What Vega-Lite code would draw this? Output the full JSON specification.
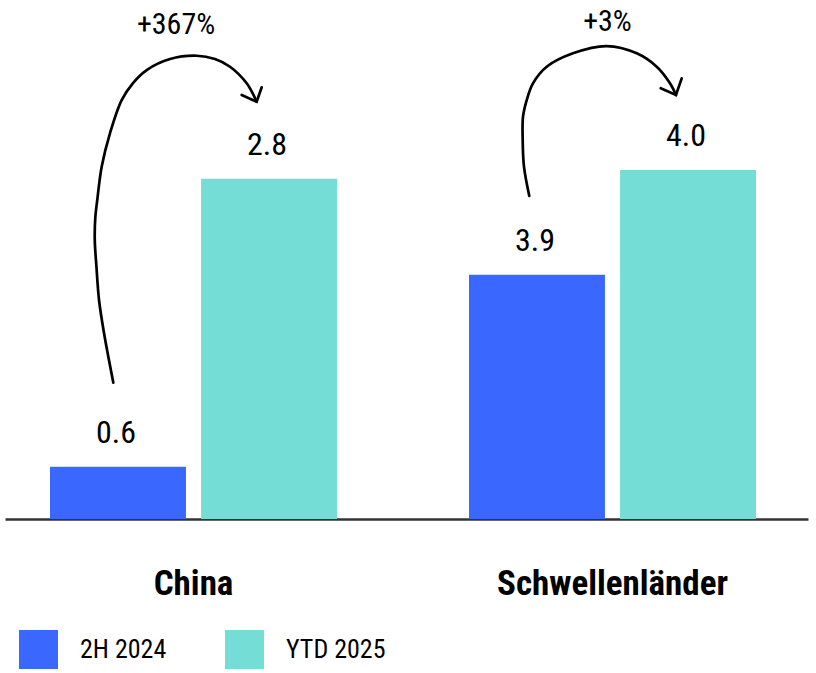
{
  "$schema": "https://vega.github.io/schema/vega-lite/v6.json",
  "width": 803,
  "height": 519,
  "autosize": {"type": "none"},
  "padding": {"left": 5, "top": 0, "right": 8, "bottom": 154},
  "background": "white",
  "config": {
    "view": {"stroke": null},
    "font": "Roboto Condensed, Liberation Sans, sans-serif"
  },
  "datasets": {
    "bars": [
      {"region": "China", "period": "2H 2024", "bar": 0.6, "label": "0.6"},
      {"region": "China", "period": "YTD 2025", "bar": 3.9, "label": "2.8"},
      {"region": "Schwellenländer", "period": "2H 2024", "bar": 2.8, "label": "3.9"},
      {"region": "Schwellenländer", "period": "YTD 2025", "bar": 4.0, "label": "4.0"}
    ],
    "curves": [
      {"seg": "c", "i": 1, "x": 13.49, "y": 1.563},
      {"seg": "c", "i": 2, "x": 12.33, "y": 2.132},
      {"seg": "c", "i": 3, "x": 11.71, "y": 2.511},
      {"seg": "c", "i": 4, "x": 11.39, "y": 2.889},
      {"seg": "c", "i": 5, "x": 11.18, "y": 3.198},
      {"seg": "c", "i": 6, "x": 11.25, "y": 3.462},
      {"seg": "c", "i": 7, "x": 11.49, "y": 3.657},
      {"seg": "c", "i": 8, "x": 12.04, "y": 4.039},
      {"seg": "c", "i": 9, "x": 13.08, "y": 4.425},
      {"seg": "c", "i": 10, "x": 14.53, "y": 4.803},
      {"seg": "c", "i": 11, "x": 15.94, "y": 4.998},
      {"seg": "c", "i": 12, "x": 17.65, "y": 5.147},
      {"seg": "c", "i": 13, "x": 20.55, "y": 5.273},
      {"seg": "c", "i": 14, "x": 23.87, "y": 5.311},
      {"seg": "c", "i": 15, "x": 26.15, "y": 5.273},
      {"seg": "c", "i": 16, "x": 28.02, "y": 5.185},
      {"seg": "c", "i": 17, "x": 30.10, "y": 4.995},
      {"seg": "c", "i": 18, "x": 31.34, "y": 4.784},
      {"seg": "s", "i": 1, "x": 65.29, "y": 3.703},
      {"seg": "s", "i": 2, "x": 64.63, "y": 4.039},
      {"seg": "s", "i": 3, "x": 64.47, "y": 4.345},
      {"seg": "s", "i": 4, "x": 64.51, "y": 4.612},
      {"seg": "s", "i": 5, "x": 64.97, "y": 4.803},
      {"seg": "s", "i": 6, "x": 65.75, "y": 4.995},
      {"seg": "s", "i": 7, "x": 67.46, "y": 5.185},
      {"seg": "s", "i": 8, "x": 70.73, "y": 5.339},
      {"seg": "s", "i": 9, "x": 74.93, "y": 5.422},
      {"seg": "s", "i": 10, "x": 78.67, "y": 5.339},
      {"seg": "s", "i": 11, "x": 81.16, "y": 5.185},
      {"seg": "s", "i": 12, "x": 82.81, "y": 4.995},
      {"seg": "s", "i": 13, "x": 83.56, "y": 4.861}
    ],
    "heads": [
      {"seg": "c", "i": 1, "x": 29.48, "y": 4.861},
      {"seg": "c", "i": 2, "x": 31.34, "y": 4.784},
      {"seg": "c", "i": 3, "x": 31.97, "y": 4.949},
      {"seg": "s", "i": 1, "x": 81.66, "y": 4.938},
      {"seg": "s", "i": 2, "x": 83.56, "y": 4.861},
      {"seg": "s", "i": 3, "x": 84.27, "y": 5.052}
    ],
    "pct": [
      {"x": 21.30, "y": 5.663, "text": "+367%"},
      {"x": 75.03, "y": 5.703, "text": "+3%"}
    ]
  },
  "layer": [
    {
      "data": {"name": "bars"},
      "encoding": {
        "x": {
          "field": "region",
          "type": "nominal",
          "sort": ["China", "Schwellenländer"],
          "scale": {"paddingInner": 0.315, "paddingOuter": 0.11575, "align": 0.464},
          "axis": {
            "title": null,
            "domain": true,
            "domainColor": "#333333",
            "domainWidth": 2.5,
            "ticks": false,
            "tickSize": 0,
            "labelPadding": 47,
            "labelFontSize": 35,
            "labelFontWeight": "bold",
            "labelColor": "black",
            "labelAngle": 0,
            "labelLimit": 0
          }
        },
        "xOffset": {
          "field": "period",
          "type": "nominal",
          "scale": {"paddingInner": 0.1, "paddingOuter": 0}
        },
        "y": {
          "field": "bar",
          "type": "quantitative",
          "scale": {"domain": [0, 5.95], "nice": false},
          "axis": null
        }
      },
      "layer": [
        {
          "mark": {"type": "bar"},
          "encoding": {
            "color": {
              "field": "period",
              "type": "nominal",
              "scale": {"domain": ["2H 2024", "YTD 2025"], "range": ["#3A67FE", "#74DDD6"]},
              "legend": {
                "orient": "none",
                "legendX": 14,
                "legendY": 630,
                "direction": "horizontal",
                "title": null,
                "symbolType": "square",
                "symbolSize": 1521,
                "symbolStrokeWidth": 0,
                "symbolOpacity": 1,
                "labelFontSize": 26,
                "labelOffset": 22,
                "labelColor": "black",
                "labelLimit": 0,
                "columnPadding": 58,
                "padding": 0
              }
            }
          }
        },
        {
          "mark": {"type": "text", "baseline": "alphabetic", "dy": -24, "dx": -2, "fontSize": 32, "color": "black"},
          "encoding": {"text": {"field": "label"}}
        }
      ]
    },
    {
      "layer": [
        {
          "data": {"name": "curves"},
          "mark": {"type": "line", "interpolate": "catmull-rom", "color": "black", "strokeWidth": 2.7, "strokeCap": "round"},
          "encoding": {
            "x": {"field": "x", "type": "quantitative", "scale": {"domain": [0, 100], "nice": false, "zero": false}, "axis": null},
            "y": {"field": "y", "type": "quantitative", "scale": {"domain": [0, 5.95], "nice": false}, "axis": null},
            "detail": {"field": "seg"},
            "order": {"field": "i", "type": "quantitative"}
          }
        },
        {
          "data": {"name": "heads"},
          "mark": {"type": "line", "interpolate": "linear", "color": "black", "strokeWidth": 2.7, "strokeCap": "round", "strokeJoin": "miter"},
          "encoding": {
            "x": {"field": "x", "type": "quantitative", "scale": {"domain": [0, 100], "nice": false, "zero": false}, "axis": null},
            "y": {"field": "y", "type": "quantitative", "scale": {"domain": [0, 5.95], "nice": false}, "axis": null},
            "detail": {"field": "seg"},
            "order": {"field": "i", "type": "quantitative"}
          }
        },
        {
          "data": {"name": "pct"},
          "mark": {"type": "text", "baseline": "middle", "align": "center", "fontSize": 30, "color": "black"},
          "encoding": {
            "x": {"field": "x", "type": "quantitative", "scale": {"domain": [0, 100], "nice": false, "zero": false}, "axis": null},
            "y": {"field": "y", "type": "quantitative", "scale": {"domain": [0, 5.95], "nice": false}, "axis": null},
            "text": {"field": "text"}
          }
        }
      ]
    }
  ],
  "resolve": {"scale": {"x": "independent"}}
}
